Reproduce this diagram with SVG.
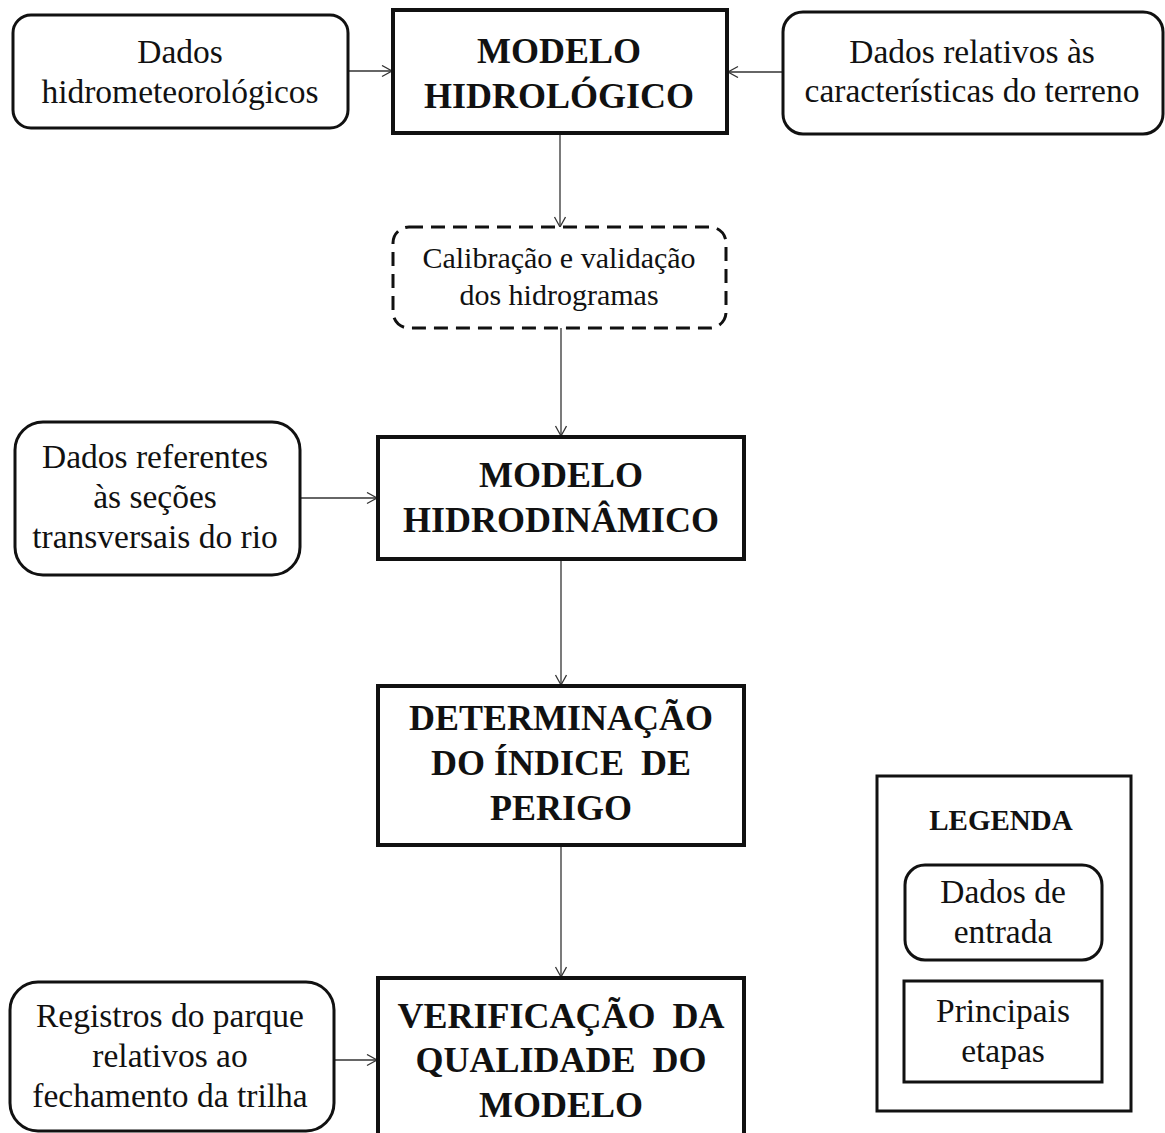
<svg xmlns="http://www.w3.org/2000/svg" width="1165" height="1133" viewBox="0 0 1165 1133">
<defs>
<style>
.bg{fill:#ffffff}
.data{fill:#ffffff;stroke:#111;stroke-width:3}
.step{fill:#ffffff;stroke:#111;stroke-width:4}
.dash{fill:#ffffff;stroke:#111;stroke-width:3;stroke-dasharray:14 8}
.leg{fill:#ffffff;stroke:#111;stroke-width:3}
.t{font-family:"Liberation Serif","Times New Roman",serif;font-size:33.5px;fill:#111;text-anchor:middle}
.tc{font-family:"Liberation Serif","Times New Roman",serif;font-size:30px;fill:#111;text-anchor:middle}
.b{font-family:"Liberation Serif","Times New Roman",serif;font-size:36px;font-weight:bold;fill:#111;text-anchor:middle}
.lb{font-family:"Liberation Serif","Times New Roman",serif;font-size:29px;font-weight:bold;fill:#111;text-anchor:middle}
.c{fill:none;stroke:#333;stroke-width:1.3}
</style>
<marker id="arr" markerUnits="userSpaceOnUse" markerWidth="14" markerHeight="14" refX="11" refY="6" orient="auto">
<path d="M1,0.5 L11,6 L1,11.5" fill="none" stroke="#333" stroke-width="1.3"/>
</marker>
</defs>
<rect class="bg" x="0" y="0" width="1165" height="1133"/>

<g id="connectors">
<line class="c" x1="348" y1="71" x2="392" y2="71" marker-end="url(#arr)"/>
<line class="c" x1="783" y1="72" x2="728" y2="72" marker-end="url(#arr)"/>
<line class="c" x1="560" y1="133" x2="560" y2="227" marker-end="url(#arr)"/>
<line class="c" x1="561" y1="328" x2="561" y2="436" marker-end="url(#arr)"/>
<line class="c" x1="300" y1="498" x2="377" y2="498" marker-end="url(#arr)"/>
<line class="c" x1="561" y1="559" x2="561" y2="685" marker-end="url(#arr)"/>
<line class="c" x1="561" y1="845" x2="561" y2="977" marker-end="url(#arr)"/>
<line class="c" x1="334" y1="1060" x2="377" y2="1060" marker-end="url(#arr)"/>
</g>

<g id="dados-hidrometeorologicos">
<rect class="data" x="13" y="15" width="335" height="113" rx="18"/>
<text class="t" x="180" y="63">Dados</text>
<text class="t" x="180" y="103">hidrometeorológicos</text>
</g>

<g id="modelo-hidrologico">
<rect class="step" x="393" y="10" width="334" height="123"/>
<text class="b" x="559" y="63">MODELO</text>
<text class="b" x="559" y="108">HIDROLÓGICO</text>
</g>

<g id="dados-terreno">
<rect class="data" x="783" y="12" width="380" height="122" rx="20"/>
<text class="t" x="972" y="63">Dados relativos às</text>
<text class="t" x="972" y="102">características do terreno</text>
</g>

<g id="calibracao">
<rect class="dash" x="393" y="227" width="333" height="101" rx="16"/>
<text class="tc" x="559" y="268">Calibração e validação</text>
<text class="tc" x="559" y="305">dos hidrogramas</text>
</g>

<g id="dados-secoes">
<rect class="data" x="15" y="422" width="285" height="153" rx="28"/>
<text class="t" x="155" y="468">Dados referentes</text>
<text class="t" x="155" y="508">às seções</text>
<text class="t" x="155" y="548">transversais do rio</text>
</g>

<g id="modelo-hidrodinamico">
<rect class="step" x="378" y="437" width="366" height="122"/>
<text class="b" x="561" y="487">MODELO</text>
<text class="b" x="561" y="532">HIDRODINÂMICO</text>
</g>

<g id="determinacao">
<rect class="step" x="378" y="686" width="366" height="159"/>
<text class="b" x="561" y="730">DETERMINAÇÃO</text>
<text class="b" x="561" y="775">DO ÍNDICE<tspan dx="8"> DE</tspan></text>
<text class="b" x="561" y="820">PERIGO</text>
</g>

<g id="registros">
<rect class="data" x="10" y="982" width="324" height="149" rx="28"/>
<text class="t" x="170" y="1027">Registros do parque</text>
<text class="t" x="170" y="1067">relativos ao</text>
<text class="t" x="170" y="1107">fechamento da trilha</text>
</g>

<g id="verificacao">
<rect class="step" x="378" y="978" width="366" height="170"/>
<text class="b" x="561" y="1028">VERIFICAÇÃO<tspan dx="8"> DA</tspan></text>
<text class="b" x="561" y="1072">QUALIDADE<tspan dx="8"> DO</tspan></text>
<text class="b" x="561" y="1117">MODELO</text>
</g>

<g id="legenda">
<rect class="leg" x="877" y="776" width="254" height="335"/>
<text class="lb" x="1001" y="830">LEGENDA</text>
<rect class="data" x="905" y="865" width="197" height="95" rx="20"/>
<text class="t" x="1003" y="903">Dados de</text>
<text class="t" x="1003" y="943">entrada</text>
<rect class="leg" x="904" y="981" width="198" height="101"/>
<text class="t" x="1003" y="1022">Principais</text>
<text class="t" x="1003" y="1062">etapas</text>
</g>
</svg>
